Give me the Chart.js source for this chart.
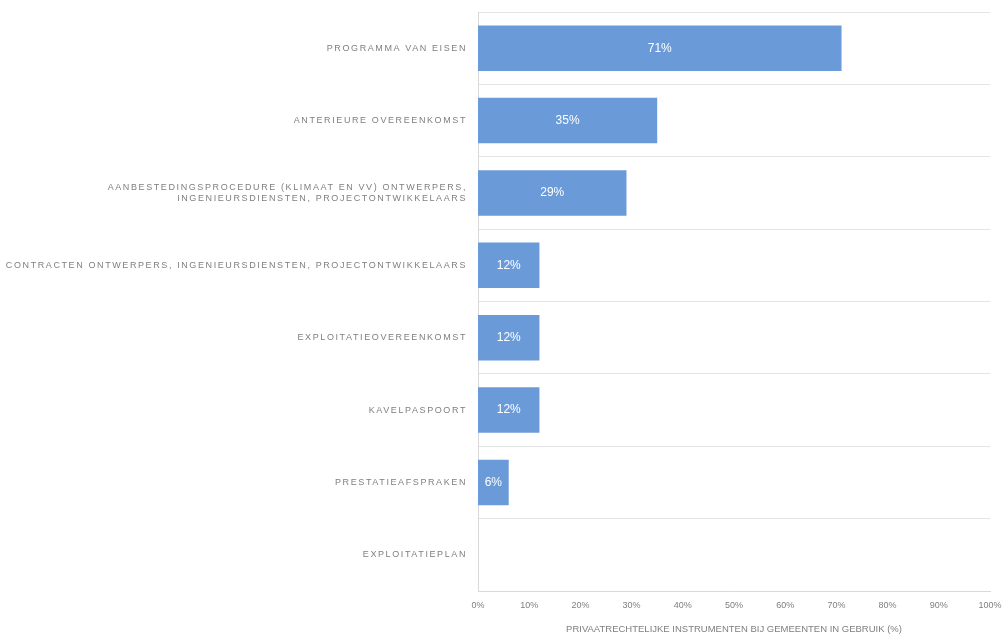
<!DOCTYPE html>
<html>
<head>
<meta charset="utf-8">
<script src="https://cdn.jsdelivr.net/npm/chart.js@4/dist/chart.umd.min.js"></script>
<style>
  html, body { margin: 0; padding: 0; background: #fff; }
  #chart { display: block; }
</style>
</head>
<body>
<canvas id="chart" width="1006" height="637"></canvas>
<script>
const labels = [
  ["PROGRAMMA VAN EISEN"],
  ["ANTERIEURE OVEREENKOMST"],
  ["AANBESTEDINGSPROCEDURE (KLIMAAT EN VV) ONTWERPERS,", "INGENIEURSDIENSTEN, PROJECTONTWIKKELAARS"],
  ["CONTRACTEN ONTWERPERS, INGENIEURSDIENSTEN, PROJECTONTWIKKELAARS"],
  ["EXPLOITATIEOVEREENKOMST"],
  ["KAVELPASPOORT"],
  ["PRESTATIEAFSPRAKEN"],
  ["EXPLOITATIEPLAN"],
];
const values = [71, 35, 29, 12, 12, 12, 6, 0];
const xTicks = [0, 10, 20, 30, 40, 50, 60, 70, 80, 90, 100];
const axisTitle = "PRIVAATRECHTELIJKE INSTRUMENTEN BIJ GEMEENTEN IN GEBRUIK (%)";

const BAR = "#6a9bd8";
const TEXT = "#7f7f7f";

// category labels with letter spacing, values inside the bars
const labelPlugin = {
  id: "labelPlugin",
  afterDatasetsDraw(chart) {
    const ctx = chart.ctx;
    const y = chart.scales.y;
    ctx.save();
    ctx.font = "9px 'Liberation Sans', sans-serif";
    ctx.letterSpacing = "1.6px";
    ctx.fillStyle = TEXT;
    ctx.textAlign = "right";
    ctx.textBaseline = "middle";
    labels.forEach((lines, i) => {
      const cy = y.getPixelForValue(i);
      const lh = 11;
      const start = cy - ((lines.length - 1) * lh) / 2;
      lines.forEach((line, j) => {
        ctx.fillText(line, chart.chartArea.left - 11, start + j * lh);
      });
    });

    ctx.letterSpacing = "0px";
    ctx.font = "12px 'Liberation Sans', sans-serif";
    ctx.fillStyle = "#ffffff";
    ctx.textAlign = "center";
    const meta = chart.getDatasetMeta(0);
    meta.data.forEach((bar, i) => {
      if (!values[i]) return;
      const cx = (bar.x + bar.base) / 2;
      ctx.fillText(values[i] + "%", cx, bar.y);
    });
    ctx.restore();
  },
};

new Chart(document.getElementById("chart"), {
  type: "bar",
  data: {
    labels: labels,
    datasets: [
      {
        data: values,
        backgroundColor: BAR,
        borderWidth: 0,
        categoryPercentage: 1,
        barPercentage: 0.63,
      },
    ],
  },
  options: {
    indexAxis: "y",
    responsive: false,
    animation: false,
    layout: { padding: { top: 12, right: 16, left: 0, bottom: 0 } },
    plugins: {
      legend: { display: false },
      tooltip: { enabled: false },
    },
    scales: {
      x: {
        min: 0,
        max: 100,
        afterBuildTicks: (scale) => {
          scale.ticks = xTicks.map((v) => ({ value: v }));
        },
        afterFit: (scale) => {
          scale.height = 46;
          scale.paddingRight = 0;
          scale.paddingLeft = 0;
        },
        grid: { display: false, drawTicks: false },
        border: { display: true, color: "#d9d9d9" },
        ticks: {
          padding: 9,
          color: TEXT,
          font: { size: 9, family: "'Liberation Sans', sans-serif" },
          callback: (v) => v + "%",
          maxRotation: 0,
        },
        title: {
          display: true,
          text: axisTitle,
          color: TEXT,
          font: { size: 9.5, family: "'Liberation Sans', sans-serif" },
          padding: { top: 0, bottom: 2 },
        },
      },
      y: {
        afterFit: (scale) => {
          scale.width = 478;
        },
        grid: { offset: true, color: "#e3e3e3", drawTicks: false },
        border: { display: true, color: "#d9d9d9" },
        ticks: { display: false },
      },
    },
  },
  plugins: [labelPlugin],
});
</script>
</body>
</html>
